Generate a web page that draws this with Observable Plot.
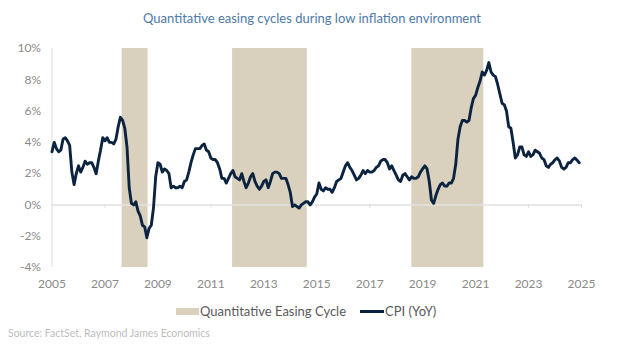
<!DOCTYPE html>
<html>
<head>
<meta charset="utf-8">
<script src="https://cdn.jsdelivr.net/npm/d3@7"></script>
<script src="https://cdn.jsdelivr.net/npm/@observablehq/plot@0.6"></script>
<style>
  html, body { margin: 0; padding: 0; background: #fff; }
  #wrap { position: relative; width: 624px; height: 349px; font-family: Lato, "Open Sans", sans-serif; overflow: hidden; }
  #title { position: absolute; left: 0; width: 624px; top: 10px; text-align: center; font-size: 13px; color: #4d7aa8; }
  #chart { position: absolute; left: 0; top: 0; }
  #legend { position: absolute; top: 303px; left: 0; width: 624px; height: 16px; font-size: 13px; color: #5a5a5a; }
  .sw { position: absolute; }
  .lt { position: absolute; top: 0; line-height: 16px; white-space: nowrap; }
  #source { position: absolute; left: 8px; top: 327px; font-size: 10.5px; color: #bdbdbd; white-space: nowrap; }
</style>
</head>
<body>
<div id="wrap">
  <div id="chart"></div>
  <div id="title">Quantitative easing cycles during low inflation environment</div>
  <div id="legend">
    <div class="sw" style="left:176px; top:5px; width:23px; height:7px; background:#d9d1be;"></div>
    <div class="lt" style="left:200px;">Quantitative Easing Cycle</div>
    <div class="sw" style="left:360px; top:7px; width:24px; height:3px; background:#0c2340;"></div>
    <div class="lt" style="left:385px;">CPI (YoY)</div>
  </div>
  <div id="source">Source: FactSet, Raymond James Economics</div>
</div>
<script>
// Chart axis start (first monthly point sits at the "2005" tick)
const startYear = 2005;
// CPI (YoY, %) monthly values as plotted
const cpi = [
  3.4,
  4.0, 3.6, 3.4, 3.5, 4.2, 4.3, 4.1, 3.8, 2.1, 1.3, 2.0, 2.5,
  2.1, 2.4, 2.8, 2.6, 2.7, 2.7, 2.4, 2.0, 2.8, 3.5, 4.3, 4.1,
  4.3, 4.0, 4.0, 3.9, 4.2, 5.0, 5.6, 5.4, 4.9, 3.7, 1.1, 0.1,
  0.0, 0.2, -0.4, -0.7, -1.3, -1.4, -2.1, -1.5, -1.3, -0.2, 1.8, 2.7,
  2.6, 2.1, 2.3, 2.2, 2.0, 1.1, 1.2, 1.1, 1.1, 1.2, 1.1, 1.5,
  1.6, 2.1, 2.7, 3.2, 3.6, 3.6, 3.6, 3.8, 3.9, 3.5, 3.4, 3.0,
  2.9, 2.9, 2.7, 2.3, 1.7, 1.7, 1.4, 1.7, 2.0, 2.2, 1.8, 1.7,
  1.6, 2.0, 1.5, 1.1, 1.4, 1.8, 2.0, 1.5, 1.2, 1.0, 1.2, 1.5,
  1.6, 1.1, 1.5, 2.0, 2.1, 2.1, 2.0, 1.7, 1.7, 1.7, 1.3, 0.8,
  -0.1, 0.0, -0.1, -0.2, 0.0, 0.1, 0.2, 0.2, 0.0, 0.2, 0.5, 0.7,
  1.4, 1.0, 0.9, 1.1, 1.0, 1.0, 0.8, 1.1, 1.5, 1.6, 1.7, 2.1,
  2.5, 2.7, 2.4, 2.2, 1.9, 1.6, 1.7, 1.9, 2.2, 2.0, 2.2, 2.1,
  2.1, 2.2, 2.4, 2.5, 2.8, 2.9, 2.9, 2.7, 2.3, 2.5, 2.2, 1.9,
  1.6, 1.5, 1.9, 2.0, 1.8, 1.6, 1.8, 1.7, 1.7, 1.8, 2.1, 2.3,
  2.5, 2.3, 1.5, 0.3, 0.1, 0.6, 1.0, 1.3, 1.4, 1.2, 1.2, 1.4,
  1.4, 1.7, 2.6, 4.2, 5.0, 5.4, 5.4, 5.3, 5.4, 6.2, 6.8, 7.0,
  7.5, 7.9, 8.5, 8.3, 8.6, 9.1, 8.5, 8.3, 8.2, 7.7, 7.1, 6.5,
  6.4, 6.0, 5.0, 4.9, 4.0, 3.0, 3.2, 3.7, 3.7, 3.2, 3.1, 3.4,
  3.1, 3.2, 3.5, 3.4, 3.3, 3.0, 2.9, 2.5, 2.4, 2.6, 2.7, 2.9,
  3.0, 2.8, 2.4, 2.3, 2.4, 2.7, 2.7, 2.9, 3.0, 2.85, 2.7
];
// Quantitative easing cycles (chart-axis years)
const qeStart = [2007.65, 2011.82, 2018.59];
const qeEnd   = [2008.63, 2014.64, 2021.31];
// Axis ticks
const xTicks = [2005, 2007, 2009, 2011, 2013, 2015, 2017, 2019, 2021, 2023, 2025];
const yTicks = [-4, -2, 0, 2, 4, 6, 8, 10];

const series = cpi.map((v, i) => ({x: startYear + i / 12, y: v}));
const bands = qeStart.map((s, i) => ({x1: s, x2: qeEnd[i]}));

const chart = Plot.plot({
  width: 624,
  height: 300,
  marginLeft: 51.5,
  marginRight: 43,
  marginTop: 48,
  marginBottom: 33,
  style: {fontFamily: "Lato, 'Open Sans', sans-serif", fontSize: "12px", color: "#8a8a8a", background: "transparent"},
  x: {domain: [2005, 2025], ticks: xTicks, tickFormat: d => String(d), tickSize: 0, tickPadding: 12, label: null},
  y: {domain: [-4, 10], ticks: yTicks, tickFormat: d => d + "%", tickSize: 0, tickPadding: 11, label: null},
  marks: [
    Plot.rect(bands, {x1: "x1", x2: "x2", y1: -4, y2: 10, fill: "#d9d1be"}),
    Plot.ruleY([0], {x1: 2005, x2: 2025, stroke: "#e2e2e2", strokeWidth: 1.5}),
    Plot.ruleX(xTicks.slice(1), {y1: 0, y2: -0.2, stroke: "#dadada", strokeWidth: 1}),
    Plot.ruleX([2005], {y1: -4, y2: 10, stroke: "#dcdcdc", strokeWidth: 1}),
    Plot.line(series, {x: "x", y: "y", stroke: "#0c2340", strokeWidth: 2.9, strokeLinejoin: "round", strokeLinecap: "round"})
  ]
});
document.getElementById("chart").appendChild(chart);
</script>
</body>
</html>
